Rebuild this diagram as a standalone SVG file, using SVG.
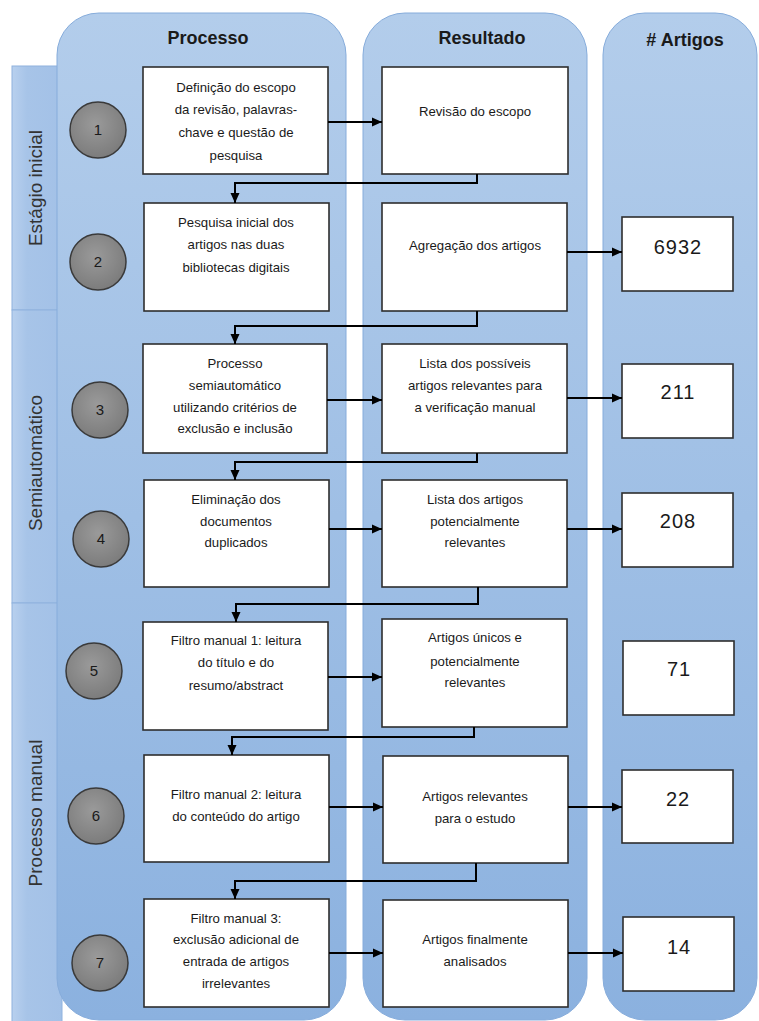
<svg xmlns="http://www.w3.org/2000/svg" width="759" height="1021" viewBox="0 0 759 1021">
<defs>
<linearGradient id="lane" x1="0" y1="0" x2="0" y2="1">
<stop offset="0" stop-color="#b3cdeb"/>
<stop offset="1" stop-color="#8bb1df"/>
</linearGradient>
<linearGradient id="bar" x1="0" y1="0" x2="1" y2="0">
<stop offset="0" stop-color="#b8d0ee"/>
<stop offset="0.3" stop-color="#a7c4e8"/>
<stop offset="1" stop-color="#a3c1e7"/>
</linearGradient>
<radialGradient id="ball" cx="0.45" cy="0.4" r="0.6">
<stop offset="0" stop-color="#9a9a9a"/>
<stop offset="1" stop-color="#7c7c7c"/>
</radialGradient>
<marker id="ah" markerUnits="userSpaceOnUse" markerWidth="11" markerHeight="10" refX="10" refY="5" orient="auto">
<path d="M0,0.5 L10,5 L0,9.5 z" fill="#000"/>
</marker>
<style>
.lane{fill:url(#lane);stroke:#86acdb;stroke-width:1}
.bar{fill:url(#bar);stroke:#8fb2de;stroke-width:1}
.box{fill:#fff;stroke:#2e2e2e;stroke-width:1.6}
.ball{fill:url(#ball);stroke:#3a3a3a;stroke-width:1.5}
.t{font-family:"Liberation Sans",Arial,sans-serif;font-size:13.2px;fill:#1a1a1a;text-anchor:middle}
.n{font-family:"Liberation Sans",Arial,sans-serif;font-size:20px;fill:#1a1a1a;text-anchor:middle;letter-spacing:1px}
.c{font-family:"Liberation Sans",Arial,sans-serif;font-size:15px;fill:#1a1a1a;text-anchor:middle}
.h{font-family:"Liberation Sans",Arial,sans-serif;font-size:18px;font-weight:bold;fill:#1a1a1a;text-anchor:middle}
.s{font-family:"Liberation Sans",Arial,sans-serif;font-size:19px;fill:#333;text-anchor:middle}
.conn path{fill:none;stroke:#000;stroke-width:2;marker-end:url(#ah)}
</style>
</defs>
<rect width="759" height="1021" fill="#fff"/>

<g id="stage-bars">
<rect class="bar" x="12" y="66" width="50" height="244"/>
<rect class="bar" x="12" y="310" width="50" height="293"/>
<rect class="bar" x="12" y="603" width="50" height="430"/>
</g>

<g id="lanes">
<rect class="lane" x="57" y="13" width="289" height="1007" rx="42" ry="42"/>
<rect class="lane" x="363" y="13" width="224" height="1007" rx="42" ry="42"/>
<rect class="lane" x="603" y="13" width="154" height="1007" rx="42" ry="42"/>
</g>

<g id="headers">
<text class="h" x="208" y="44">Processo</text>
<text class="h" x="482" y="44">Resultado</text>
<text class="h" x="685" y="46"># Artigos</text>
</g>

<g id="stage-labels">
<text class="s" transform="translate(42,188) rotate(-90)">Estágio inicial</text>
<text class="s" transform="translate(42,463) rotate(-90)">Semiautomático</text>
<text class="s" transform="translate(42,813) rotate(-90)">Processo manual</text>
</g>

<g id="step1"><circle class="ball" cx="98" cy="130" r="28"/><text class="c" x="98" y="135">1</text></g>
<g id="step2"><circle class="ball" cx="98" cy="262" r="28"/><text class="c" x="98" y="267">2</text></g>
<g id="step3"><circle class="ball" cx="100" cy="410" r="28"/><text class="c" x="100" y="415">3</text></g>
<g id="step4"><circle class="ball" cx="101" cy="539" r="28"/><text class="c" x="101" y="544">4</text></g>
<g id="step5"><circle class="ball" cx="94" cy="671" r="28"/><text class="c" x="94" y="676">5</text></g>
<g id="step6"><circle class="ball" cx="96" cy="816" r="28"/><text class="c" x="96" y="821">6</text></g>
<g id="step7"><circle class="ball" cx="100" cy="963" r="28"/><text class="c" x="100" y="968">7</text></g>

<g id="proc1"><rect class="box" x="143" y="67" width="185" height="107"/>
<text class="t" x="236" y="92">Definição do escopo</text>
<text class="t" x="236" y="114">da revisão, palavras-</text>
<text class="t" x="236" y="137">chave e questão de</text>
<text class="t" x="236" y="160">pesquisa</text></g>
<g id="proc2"><rect class="box" x="144" y="203" width="185" height="108"/>
<text class="t" x="236" y="227">Pesquisa inicial dos</text>
<text class="t" x="236" y="249">artigos nas duas</text>
<text class="t" x="236" y="272">bibliotecas digitais</text></g>
<g id="proc3"><rect class="box" x="143" y="344" width="184" height="109"/>
<text class="t" x="235" y="368">Processo</text>
<text class="t" x="235" y="390">semiautomático</text>
<text class="t" x="235" y="412">utilizando critérios de</text>
<text class="t" x="235" y="433">exclusão e inclusão</text></g>
<g id="proc4"><rect class="box" x="144" y="480" width="185" height="107"/>
<text class="t" x="236" y="504">Eliminação dos</text>
<text class="t" x="236" y="526">documentos</text>
<text class="t" x="236" y="547">duplicados</text></g>
<g id="proc5"><rect class="box" x="143" y="622" width="185" height="108"/>
<text class="t" x="236" y="645">Filtro manual 1: leitura</text>
<text class="t" x="236" y="667">do título e do</text>
<text class="t" x="236" y="690">resumo/abstract</text></g>
<g id="proc6"><rect class="box" x="144" y="755" width="185" height="107"/>
<text class="t" x="236" y="799">Filtro manual 2: leitura</text>
<text class="t" x="236" y="821">do conteúdo do artigo</text></g>
<g id="proc7"><rect class="box" x="144" y="899" width="185" height="108"/>
<text class="t" x="236" y="923">Filtro manual 3:</text>
<text class="t" x="236" y="944">exclusão adicional de</text>
<text class="t" x="236" y="966">entrada de artigos</text>
<text class="t" x="236" y="988">irrelevantes</text></g>

<g id="res1"><rect class="box" x="382" y="67" width="186" height="107"/>
<text class="t" x="475" y="116">Revisão do escopo</text></g>
<g id="res2"><rect class="box" x="382" y="203" width="185" height="108"/>
<text class="t" x="475" y="250">Agregação dos artigos</text></g>
<g id="res3"><rect class="box" x="382" y="344" width="185" height="109"/>
<text class="t" x="475" y="368">Lista dos possíveis</text>
<text class="t" x="475" y="390">artigos relevantes para</text>
<text class="t" x="475" y="412">a verificação manual</text></g>
<g id="res4"><rect class="box" x="382" y="480" width="185" height="107"/>
<text class="t" x="475" y="504">Lista dos artigos</text>
<text class="t" x="475" y="526">potencialmente</text>
<text class="t" x="475" y="547">relevantes</text></g>
<g id="res5"><rect class="box" x="382" y="619" width="185" height="108"/>
<text class="t" x="475" y="642">Artigos únicos e</text>
<text class="t" x="475" y="666">potencialmente</text>
<text class="t" x="475" y="687">relevantes</text></g>
<g id="res6"><rect class="box" x="383" y="756" width="185" height="107"/>
<text class="t" x="475" y="801">Artigos relevantes</text>
<text class="t" x="475" y="823">para o estudo</text></g>
<g id="res7"><rect class="box" x="383" y="900" width="185" height="107"/>
<text class="t" x="475" y="944">Artigos finalmente</text>
<text class="t" x="475" y="966">analisados</text></g>

<g id="count1"><rect class="box" x="622" y="217" width="111" height="74"/><text class="n" x="678" y="254">6932</text></g>
<g id="count2"><rect class="box" x="622" y="364" width="111" height="74"/><text class="n" x="678" y="399">211</text></g>
<g id="count3"><rect class="box" x="622" y="493" width="111" height="74"/><text class="n" x="678" y="528">208</text></g>
<g id="count4"><rect class="box" x="623" y="641" width="111" height="74"/><text class="n" x="679" y="676">71</text></g>
<g id="count5"><rect class="box" x="622" y="770" width="111" height="73"/><text class="n" x="678" y="806">22</text></g>
<g id="count6"><rect class="box" x="623" y="917" width="111" height="74"/><text class="n" x="679" y="954">14</text></g>

<g id="connectors" class="conn">
<path d="M328,122 H382"/>
<path d="M477,174 V183 H235 V203"/>
<path d="M567,252 H622"/>
<path d="M477,311 V326 H235 V344"/>
<path d="M327,400 H382"/>
<path d="M567,398 H622"/>
<path d="M477,453 V462 H235 V480"/>
<path d="M329,529 H382"/>
<path d="M567,529 H622"/>
<path d="M478,587 V604 H236 V622"/>
<path d="M328,677 H382"/>
<path d="M474,727 V737 H232 V755"/>
<path d="M329,807 H383"/>
<path d="M568,807 H622"/>
<path d="M476,863 V881 H235 V899"/>
<path d="M329,953 H383"/>
<path d="M568,953 H623"/>
</g>
</svg>
